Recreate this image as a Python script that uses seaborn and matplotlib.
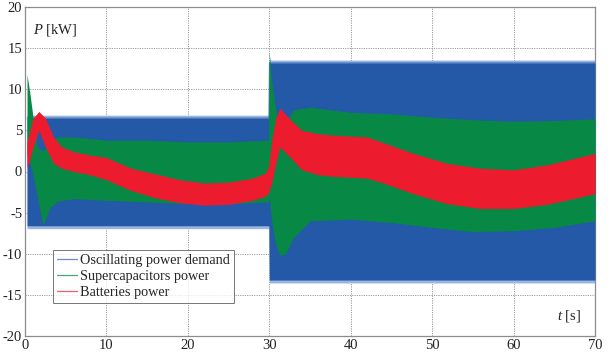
import numpy as np
import pandas as pd
import matplotlib
matplotlib.use("Agg")
import matplotlib.pyplot as plt
from matplotlib.lines import Line2D
import seaborn as sns

# ---- data: envelopes (t in s, P in kW) ----
blue_t = [0.25, 29.95, 30.0, 70.0]
blue_hi = [6.5, 6.5, 13.2, 13.2]
blue_lo = [-6.6, -6.6, -13.2, -13.2]

green_t = [0.25, 0.6, 1.0, 1.5, 2.2, 3.0, 4.0, 6.0, 10, 15, 20, 25, 29.9,
           30.0, 30.3, 30.7, 31.3, 32.0, 33, 35, 40, 45, 50, 55, 60, 65, 70]
green_hi = [11.8, 9.5, 6.5, 3.0, 2.5, 3.5, 4.2, 4.2, 3.8, 3.8, 3.6, 3.6, 3.8,
            14.5, 11.0, 8.0, 5.0, 6.0, 7.5, 7.8, 7.2, 7.0, 6.6, 6.3, 6.1, 6.2, 6.4]
green_lo = [2.0, 1.0, -0.5, -3.0, -6.5, -4.5, -3.6, -3.3, -3.5, -3.7, -3.9, -3.9, -3.7,
            -3.0, -6.0, -8.5, -10.2, -10.0, -8.0, -6.0, -5.8, -6.2, -6.8, -7.3, -7.2, -6.8, -6.0]

red_t = [0.25, 0.6, 1.0, 1.7, 2.5, 3.5, 4.5, 6, 8, 10, 13, 16, 19, 22, 25, 28, 29.5, 29.9,
         30.3, 30.8, 31.3, 32.6, 34, 36, 38, 42, 44, 47.7, 51.8, 55.9, 60, 64.1, 70]
red_hi = [3.5, 5.0, 6.5, 7.3, 6.5, 4.2, 3.0, 2.4, 2.0, 1.7, 0.4, -0.3, -1.0, -1.4, -1.3, -0.8, -0.2, 0.5,
          3.8, 6.5, 7.7, 6.3, 5.0, 4.6, 4.4, 4.2, 3.5, 2.2, 1.0, 0.4, 0.2, 0.8, 2.2]
red_lo = [0.5, 1.4, 3.0, 5.0, 3.0, 1.0, 0.4, 0.0, -0.4, -1.0, -2.3, -3.2, -3.8, -4.1, -4.0, -3.5, -3.0, -2.6,
          -1.4, 1.0, 3.0, 1.7, 0.2, -0.4, -0.6, -0.8, -1.4, -2.7, -3.9, -4.5, -4.5, -4.0, -2.7]

series_labels = ["Oscillating power demand", "Supercapacitors power", "Batteries power"]
x_ticks = [0, 10, 20, 30, 40, 50, 60, 70]
y_ticks = [-20, -15, -10, -5, 0, 5, 10, 15, 20]

# ---- style ----
sns.set_theme(style="white")
plt.rcParams["font.family"] = ["Liberation Serif", "DejaVu Serif"]
plt.rcParams["axes.unicode_minus"] = False
plt.rcParams["mathtext.fontset"] = "custom"
plt.rcParams["mathtext.it"] = "Liberation Serif:italic"
plt.rcParams["mathtext.rm"] = "Liberation Serif"

BLUE = "#2359a7"
GREEN = "#078844"
RED = "#ec1c2e"
BLUE_L = "#9ab6e0"

fig = plt.figure(figsize=(6.10, 3.54), dpi=100)
ax = fig.add_axes([25 / 610, 18 / 354, 570 / 610, 329 / 354])

bt = np.array(blue_t)
ax.fill_between(bt, np.array(blue_lo) - 0.35, np.array(blue_hi) + 0.35, color=BLUE_L, lw=0, zorder=2)
ax.fill_between(bt, blue_lo, blue_hi, color=BLUE, lw=0, zorder=3)
ax.fill_between(green_t, green_lo, green_hi, color=GREEN, lw=0, zorder=4)
ax.fill_between(red_t, red_lo, red_hi, color=RED, lw=0, zorder=5)

# thin edge traces through seaborn
df_b = pd.DataFrame({"t": blue_t, "P": blue_hi})
sns.lineplot(data=df_b, x="t", y="P", ax=ax, color=BLUE, lw=0.5, zorder=3, legend=False)

ax.set_xlim(0, 70)
ax.set_ylim(-20, 20)
ax.set_xticks(x_ticks)
ax.set_yticks(y_ticks)
ax.set_xticklabels([str(v) for v in x_ticks], fontsize=10.5)
ax.set_yticklabels([str(v) for v in y_ticks], fontsize=10.5)
ax.set_xlabel("")
ax.set_ylabel("")
ax.tick_params(axis="both", length=0, pad=2, colors="#222222")
ax.grid(True, color="#9a9a9a", linestyle=(0, (1.2, 1.2)), linewidth=0.7, zorder=0)
ax.set_axisbelow(True)
for s in ax.spines.values():
    s.set_color("#8c8c8c")
    s.set_linewidth(0.9)

ax.text(0.014, 0.93, r"$P$ [kW]", transform=ax.transAxes, fontsize=10.5,
        ha="left", va="center", color="#222222")
ax.text(0.975, 0.062, r"$t$ [s]", transform=ax.transAxes, fontsize=10.5,
        ha="right", va="center", color="#222222")

handles = [Line2D([0], [0], color=c, lw=0.9) for c in ["#6a8ed0", "#4fa477", "#f2606c"]]
leg = ax.legend(handles, series_labels, loc="lower left", bbox_to_anchor=(0.049, 0.10),
                fontsize=10.3, frameon=True, fancybox=False, handlelength=1.35,
                handletextpad=0.25, borderpad=0.3, labelspacing=0.2, borderaxespad=0)
leg.get_frame().set_edgecolor("#555555")
leg.get_frame().set_linewidth(0.7)
leg.set_zorder(10)

fig.savefig("out.png", dpi=100)
